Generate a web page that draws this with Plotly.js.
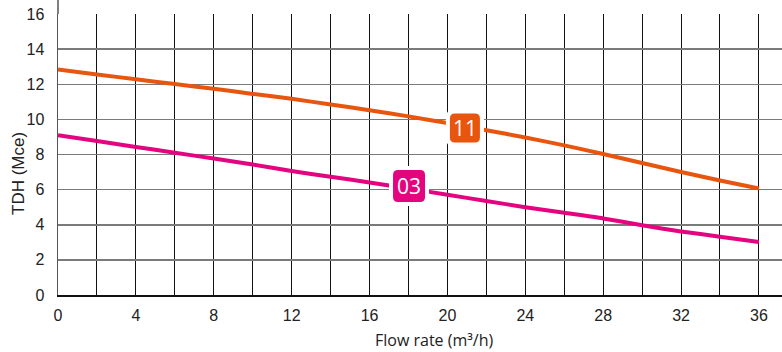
<!DOCTYPE html>
<html>
<head>
<meta charset="utf-8">
<script src="https://cdn.plot.ly/plotly-3.0.1.min.js"></script>
<style>
  html, body { margin: 0; padding: 0; background: #fff; }
  #chart { width: 782px; height: 352px; }
</style>
</head>
<body>
<div id="chart"></div>
<script>
// ---- data ----
const flowRate = [0, 2, 4, 6, 8, 10, 12, 14, 16, 18, 20, 22, 24, 26, 28, 30, 32, 34, 36];
const tdh11 = [12.84, 12.56, 12.28, 12.01, 11.74, 11.45, 11.17, 10.85, 10.52, 10.17, 9.79, 9.38, 8.97, 8.52, 8.03, 7.52, 7.0, 6.52, 6.06];
const tdh03 = [9.1, 8.77, 8.43, 8.1, 7.77, 7.43, 7.06, 6.73, 6.41, 6.06, 5.71, 5.35, 5.0, 4.68, 4.36, 3.97, 3.62, 3.32, 3.02];
const seriesNames = ["11", "03"];
const labelX = [20.9, 18.03];
const labelY = [9.51, 6.21];
const xTickVals = [0, 2, 4, 6, 8, 10, 12, 14, 16, 18, 20, 22, 24, 26, 28, 30, 32, 34, 36];
const xTickText = ["0", "", "4", "", "8", "", "12", "", "16", "", "20", "", "24", "", "28", "", "32", "", "36"];
const yTickVals = [0, 2, 4, 6, 8, 10, 12, 14, 16];
const xTitle = "Flow rate (m³/h)";
const yTitle = "TDH (Mce)";

const colors = ["#E8550F", "#E4047F"];

function roundRect(w, h, r) {
  return `M ${-w + r} ${-h} L ${w - r} ${-h} Q ${w} ${-h} ${w} ${-h + r} ` +
         `L ${w} ${h - r} Q ${w} ${h} ${w - r} ${h} L ${-w + r} ${h} ` +
         `Q ${-w} ${h} ${-w} ${h - r} L ${-w} ${-h + r} Q ${-w} ${-h} ${-w + r} ${-h} Z`;
}

const traces = [
  { x: flowRate, y: tdh11, name: seriesNames[0], mode: "lines", line: { color: colors[0], width: 4, shape: "spline", smoothing: 0.6 }, hoverinfo: "skip" },
  { x: flowRate, y: tdh03, name: seriesNames[1], mode: "lines", line: { color: colors[1], width: 4, shape: "spline", smoothing: 0.6 }, hoverinfo: "skip" }
];

const shapes = [];
const annotations = [];
const boxW = [15, 16];
const boxH = [14.5, 16];
seriesNames.forEach((name, i) => {
  shapes.push({
    type: "path", layer: "above", xref: "x", yref: "y",
    xsizemode: "pixel", ysizemode: "pixel",
    xanchor: labelX[i], yanchor: labelY[i],
    path: roundRect(boxW[i] + 4, boxH[i] + 4, 8),
    fillcolor: "#ffffff", line: { width: 0 }
  });
  shapes.push({
    type: "path", layer: "above", xref: "x", yref: "y",
    xsizemode: "pixel", ysizemode: "pixel",
    xanchor: labelX[i], yanchor: labelY[i],
    path: roundRect(boxW[i], boxH[i], 5),
    fillcolor: colors[i], line: { width: 0 }
  });
  annotations.push({
    x: labelX[i], y: labelY[i], xref: "x", yref: "y",
    text: name, showarrow: false,
    font: { family: "Open Sans, sans-serif", size: 21, color: "#ffffff" },
    xanchor: "center", yanchor: "middle"
  });
});

// left axis extension above the 16 line
shapes.push({
  type: "line", xref: "paper", yref: "paper",
  x0: 0, x1: 0, y0: 1, y1: 1 + 14 / 281,
  line: { color: "#555555", width: 1.5 }, layer: "above"
});

annotations.push({
  xref: "paper", yref: "paper", x: (434 - 58) / 724, y: (295 - 340) / 281,
  text: xTitle, showarrow: false,
  font: { family: "Open Sans, sans-serif", size: 16, color: "#222" },
  xanchor: "center", yanchor: "middle"
});
annotations.push({
  xref: "paper", yref: "paper", x: (19 - 58) / 724, y: (295 - 174) / 281,
  text: yTitle, showarrow: false, textangle: -90,
  font: { family: "Liberation Sans, Arial, sans-serif", size: 17, color: "#222" },
  xanchor: "center", yanchor: "middle"
});

const layout = {
  width: 782, height: 352,
  margin: { l: 58, r: 0, t: 14, b: 57, pad: 0 },
  paper_bgcolor: "#ffffff", plot_bgcolor: "#ffffff",
  showlegend: false,
  xaxis: {
    range: [0, 724 / 19.47],
    tickmode: "array", tickvals: xTickVals, ticktext: xTickText,
    showgrid: true, gridcolor: "#111111", gridwidth: 1,
    showline: true, linecolor: "#111111", linewidth: 1.5,
    zeroline: false, ticks: "",
    ticklabelstandoff: 5,
    tickfont: { family: "Liberation Sans, Arial, sans-serif", size: 16, color: "#222" }
  },
  yaxis: {
    range: [0, 16],
    tickmode: "array", tickvals: yTickVals,
    showgrid: true, gridcolor: "#7a7a7a", gridwidth: 1.5,
    showline: true, linecolor: "#555555", linewidth: 1.5,
    zeroline: false, ticks: "",
    ticklabelstandoff: 9,
    tickfont: { family: "Liberation Sans, Arial, sans-serif", size: 16, color: "#222" }
  },
  shapes: shapes,
  annotations: annotations
};

Plotly.newPlot("chart", traces, layout, { staticPlot: true, displayModeBar: false });
</script>
</body>
</html>
